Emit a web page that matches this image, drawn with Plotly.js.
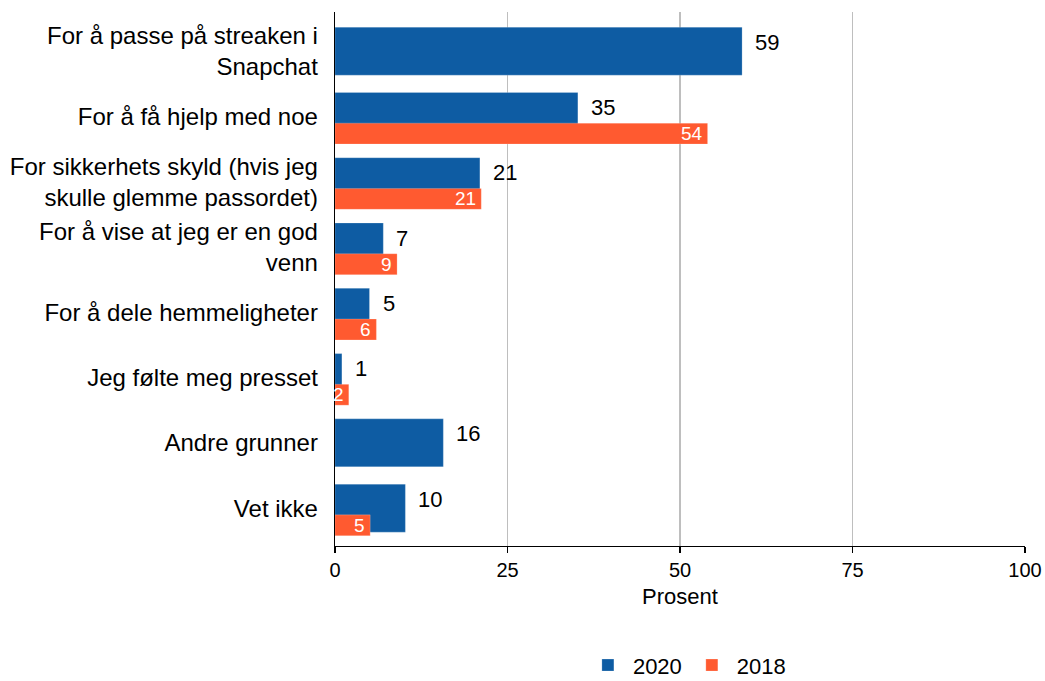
<!DOCTYPE html>
<html>
<head>
<meta charset="utf-8">
<script src="https://cdn.plot.ly/plotly-3.0.1.min.js"></script>
<style>html,body{margin:0;padding:0;background:#fff;}#chart{width:1045px;height:681px;}</style>
</head>
<body>
<div id="chart"></div>
<script>
const categories = [
  "For å passe på streaken i<br>Snapchat",
  "For å få hjelp med noe",
  "For sikkerhets skyld (hvis jeg<br>skulle glemme passordet)",
  "For å vise at jeg er en god<br>venn",
  "For å dele hemmeligheter",
  "Jeg følte meg presset",
  "Andre grunner",
  "Vet ikke"
];
const values2020 = [59, 35.2, 21, 7, 5, 1, 15.7, 10.2];
const values2018 = [null, 54, 21.2, 9, 6, 2, null, 5.1];
const seriesNames = ["2020", "2018"];
const xTicks = [0, 25, 50, 75, 100];

const blue = "#0E5CA3";
const orange = "#FF5A30";
const FONT = "Liberation Sans, Arial, Helvetica, sans-serif";

const idx = categories.map((c, i) => i);

const t2020 = {
  type: "bar", orientation: "h", name: seriesNames[0],
  y: idx, x: values2020, width: 0.735, offset: -0.3675,
  marker: {color: blue, line: {color: "rgba(255,255,255,0.35)", width: 0.6}},
  hoverinfo: "x"
};
const t2018 = {
  type: "bar", orientation: "h", name: seriesNames[1],
  y: idx, x: values2018, width: 0.32, offset: 0.103,
  marker: {color: orange, line: {color: "rgba(255,255,255,0.35)", width: 0.6}},
  hoverinfo: "x"
};

const annotations = [];
values2020.forEach((v, i) => {
  if (v == null) return;
  annotations.push({
    x: v, y: i - 0.138, xref: "x", yref: "y", text: String(Math.round(v)),
    showarrow: false, xanchor: "left", yanchor: "middle", xshift: 11,
    font: {family: FONT, size: 22, color: "#000"}
  });
});
values2018.forEach((v, i) => {
  if (v == null) return;
  annotations.push({
    x: v, y: i + 0.263, xref: "x", yref: "y", text: String(Math.round(v)),
    showarrow: false, xanchor: "right", yanchor: "middle", xshift: -3,
    font: {family: FONT, size: 19, color: "#fff"}
  });
});

const layout = {
  width: 1045, height: 681,
  margin: {l: 335, r: 20, t: 12, b: 135, autoexpand: false},
  paper_bgcolor: "#fff", plot_bgcolor: "#fff",
  barmode: "overlay",
  font: {family: FONT, size: 20, color: "#000"},
  xaxis: {
    range: [0, 100], tickvals: xTicks, ticktext: xTicks.map(String),
    showgrid: true, gridcolor: "#BEBEBE", gridwidth: 1.5,
    showline: true, linecolor: "#000", linewidth: 1.3,
    ticks: "outside", ticklen: 6, tickcolor: "#000", tickwidth: 1.3,
    tickfont: {family: FONT, size: 20, color: "#000"},
    zeroline: false, automargin: false,
    title: {text: "Prosent", font: {family: FONT, size: 22, color: "#000"}, standoff: 8}
  },
  yaxis: {
    range: [7.58, -0.6], tickvals: idx, ticktext: categories,
    showgrid: false, zeroline: false, automargin: false,
    showline: true, linecolor: "#000", linewidth: 1.3,
    ticks: "", ticklabelstandoff: 11,
    tickfont: {family: FONT, size: 24, color: "#000"}
  },
  legend: {
    orientation: "h", x: 0.51, xanchor: "center", y: -0.184, yanchor: "top",
    font: {family: FONT, size: 22, color: "#000"}, itemwidth: 40
  },
  annotations: annotations,
  showlegend: true
};

Plotly.newPlot("chart", [t2020, t2018], layout, {displayModeBar: false, staticPlot: true});
</script>
</body>
</html>
